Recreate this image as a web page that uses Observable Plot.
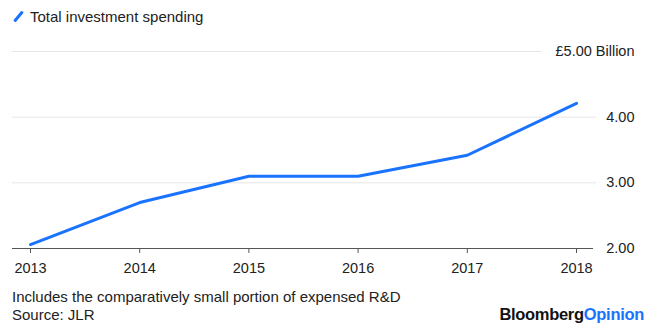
<!DOCTYPE html>
<html>
<head>
<meta charset="utf-8">
<script src="https://cdn.jsdelivr.net/npm/d3@7"></script>
<script src="https://cdn.jsdelivr.net/npm/@observablehq/plot@0.6"></script>
<style>
  body { margin: 0; background: #fff; font-family: "Liberation Sans", Arial, sans-serif; color: #222; }
  #wrap { width: 658px; height: 327px; position: relative; overflow: hidden; }
  #legend { height: 35px; display: flex; align-items: center; padding-left: 12px; font-size: 15px; box-sizing: border-box; padding-bottom: 2px; }
  #legend .sw { display: inline-block; width: 3px; height: 13px; background: #1a73ff; transform: rotate(40deg); margin: 0 10px 0 5px; border-radius: 1px; }
  #caption { position: absolute; left: 12px; top: 288px; font-size: 15px; line-height: 18px; color: #222; }
  #logo { position: absolute; right: 14px; top: 305px; font-size: 16.5px; font-weight: bold; letter-spacing: -0.3px; color: #111; }
  #logo span { color: #1a73ff; }
</style>
</head>
<body>
<div id="wrap">
  <div id="legend"><span class="sw"></span>Total investment spending</div>
  <div id="chart"></div>
  <div id="caption">Includes the comparatively small portion of expensed R&amp;D<br>Source: JLR</div>
  <div id="logo">Bloomberg<span>Opinion</span></div>
</div>
<script>
const years = [2013, 2014, 2015, 2016, 2017, 2018];
const spending = [2.06, 2.70, 3.10, 3.10, 3.42, 4.21];
const yTicks = [2, 3, 4, 5];
const yTickLabels = ["2.00", "3.00", "4.00", "£5.00 Billion"];

const data = years.map((y, i) => ({year: y, value: spending[i]}));
const midGrid = yTicks.filter(t => t !== 2 && t !== 5);
const topGrid = yTicks.filter(t => t === 5);
const labelRows = yTicks.map((t, i) => ({v: t, label: yTickLabels[i]}));

const chart = Plot.plot({
  width: 658,
  height: 247,
  marginLeft: 30,
  marginRight: 82,
  marginTop: 16,
  marginBottom: 34,
  style: {fontFamily: "'Liberation Sans', Arial, sans-serif", fontSize: "14.5px", color: "#222", background: "#fff"},
  x: {domain: [2013, 2018]},
  y: {domain: [2, 5], axis: null},
  marks: [
    Plot.ruleY(midGrid, {stroke: "#e6e6e6", strokeWidth: 1, insetLeft: -18, insetRight: -20}),
    Plot.ruleY(topGrid, {stroke: "#e6e6e6", strokeWidth: 1, insetLeft: -18, insetRight: 34}),
    Plot.ruleY([2], {stroke: "#555", strokeWidth: 1, insetLeft: -18, insetRight: -17}),
    Plot.axisX({ticks: years, tickFormat: d => String(d), tickSize: 5, tickPadding: 9, stroke: "#555", fill: "#222", fontSize: 14.5, label: null}),
    Plot.line(data, {x: "year", y: "value", stroke: "#1a73ff", strokeWidth: 3}),
    Plot.text(labelRows, {y: "v", text: "label", frameAnchor: "right", dx: 58, textAnchor: "end", fill: "#222", fontSize: 14.5})
  ]
});
document.getElementById("chart").appendChild(chart);
</script>
</body>
</html>
